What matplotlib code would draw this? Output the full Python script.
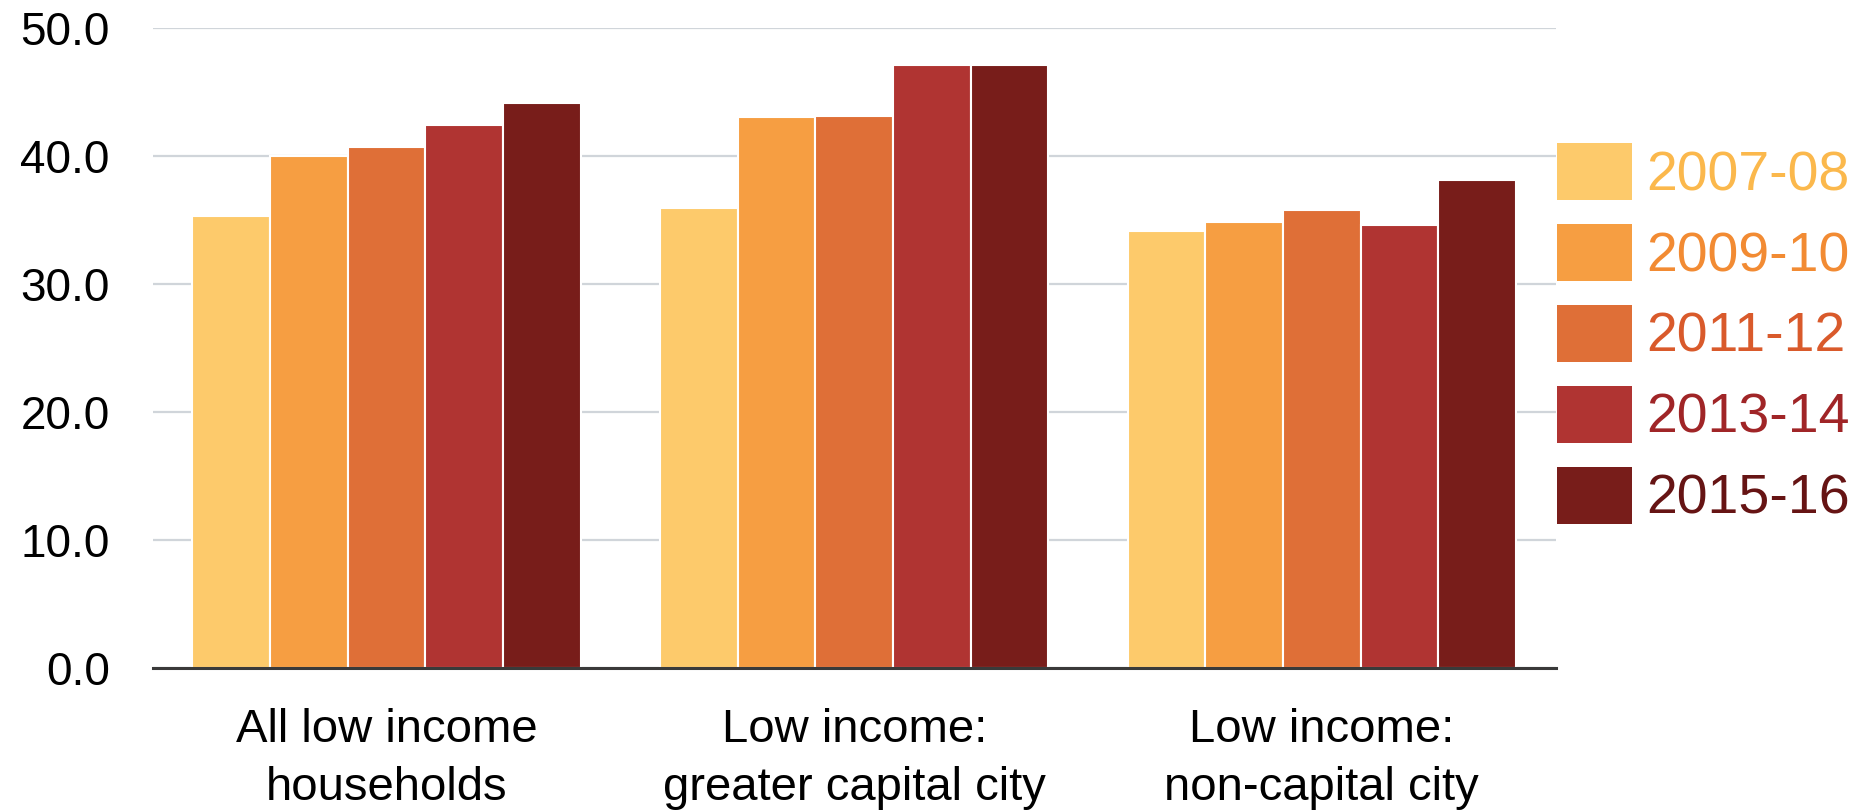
import matplotlib.pyplot as plt
import numpy as np

plt.rcParams['font.family'] = ['Liberation Sans', 'DejaVu Sans']

# ---- data ----
categories = ["All low income\nhouseholds",
              "Low income:\ngreater capital city",
              "Low income:\nnon-capital city"]
years = ["2007-08", "2009-10", "2011-12", "2013-14", "2015-16"]
v_2007 = [35.3, 35.9, 34.1]
v_2009 = [40.0, 43.0, 34.8]
v_2011 = [40.7, 43.1, 35.8]
v_2013 = [42.4, 47.1, 34.6]
v_2015 = [44.1, 47.1, 38.1]
series = [v_2007, v_2009, v_2011, v_2013, v_2015]

bar_colors = ["#FDCA6B", "#F69E42", "#DF6F37", "#B03432", "#781D1A"]
text_colors = ["#FBB84C", "#F28B33", "#D95A2B", "#A02527", "#661414"]

# ---- figure ----
fig = plt.figure(figsize=(18.71, 8.10), dpi=100)
ax = fig.add_axes([152.7 / 1871, 142 / 810, 1403 / 1871, 640.3 / 810])

x = np.arange(len(categories))
group_w = 0.83
bw = group_w / len(series)
for i, vals in enumerate(series):
    ax.bar(x - group_w / 2 + bw * (i + 0.5), vals, width=bw,
           color=bar_colors[i], edgecolor="white", linewidth=1.5,
           label=years[i], zorder=3)

ax.set_xlim(-0.5, 2.5)
ax.set_ylim(0, 50)
ax.set_yticks(np.arange(0, 51, 10))
ax.set_yticklabels([f"{t:.1f}" for t in np.arange(0, 51, 10)])
ax.set_xticks(x)
ax.set_xticklabels(categories, linespacing=1.4)

ax.tick_params(axis="y", length=0, pad=31, labelsize=33)
ax.tick_params(axis="x", length=0, pad=29, labelsize=34)

ax.grid(axis="y", color="#D0D5DA", linewidth=1.6, zorder=0)
for s in ["top", "right", "left"]:
    ax.spines[s].set_visible(False)
ax.spines["bottom"].set_color("#3A3A3A")
ax.spines["bottom"].set_linewidth(2.2)
ax.spines["bottom"].set_zorder(4)

leg = ax.legend(loc="upper left", bbox_to_anchor=(1557 / 1871, 1 - 143 / 810),
                bbox_transform=fig.transFigure, frameon=False, fontsize=40,
                handlelength=1.35, handleheight=1.2, handletextpad=0.26,
                labelspacing=0.39, borderpad=0, borderaxespad=0,
                labelcolor=text_colors)
for h in leg.legend_handles:
    h.set_edgecolor("none")

fig.savefig("out.png", dpi=100)
